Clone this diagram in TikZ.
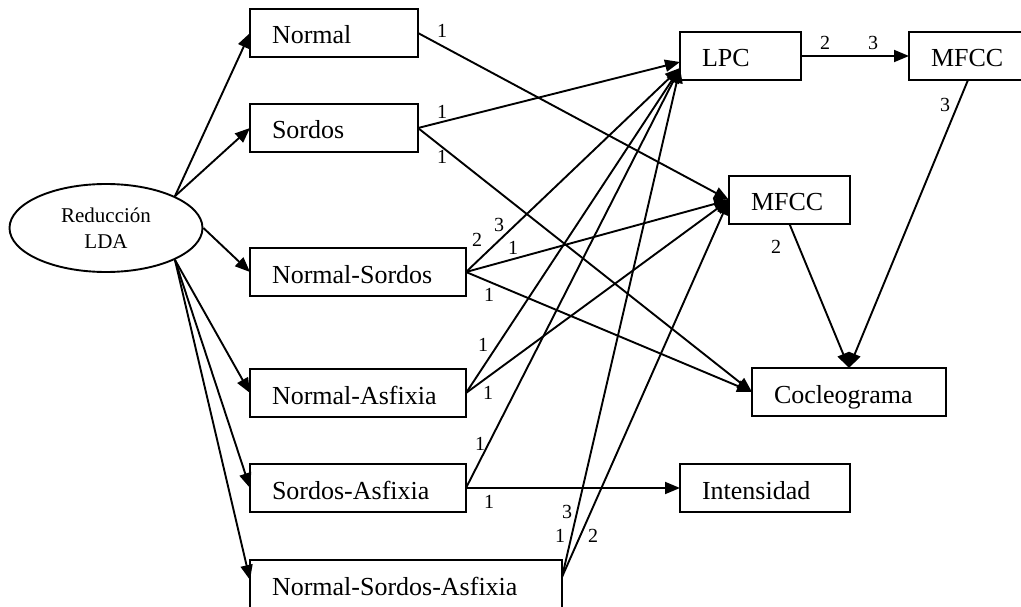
\documentclass[tikz,border=0pt]{standalone}
\usepackage{fontspec}
\setmainfont{Liberation Serif}
\usetikzlibrary{arrows.meta,shapes.geometric}
\begin{document}
\begin{tikzpicture}[x=1pt,y=-1pt,
  box/.style={draw, line width=2.1pt, anchor=north west, outer sep=0pt,
    minimum height=48pt, inner xsep=22pt, inner ysep=0pt,
    text height=22pt, text depth=0pt, align=left,
    font=\fontsize{26}{30}\selectfont},
  lbl/.style={font=\fontsize{20}{23}\selectfont, inner sep=0pt},
  link/.style={line width=1.9pt, -{Triangle[length=15pt,width=12pt]}}
]
\useasboundingbox (0,0) rectangle (1021,607);
\clip (0,0) rectangle (1021,607);

% source node
\node[draw, ellipse, line width=1.9pt, minimum width=193pt, minimum height=88pt,
  inner sep=0pt, align=center, font=\fontsize{21}{26}\selectfont]
  (red) at (106,228) {Reducción\\LDA};

% class groups
\node[box, text width=124pt] (nor) at (250,9)   {Normal};
\node[box, text width=124pt] (sor) at (250,104) {Sordos};
\node[box, text width=172pt] (ns)  at (250,248) {Normal-Sordos};
\node[box, text width=172pt] (na)  at (250,369) {Normal-Asfixia};
\node[box, text width=172pt] (sa)  at (250,464) {Sordos-Asfixia};
\node[box, text width=268pt, minimum height=52pt, text height=18pt]
  (nsa) at (250,560) {Normal-Sordos-Asfixia};

% feature sets
\node[box, text width=77pt]  (lpc) at (680,32)  {LPC};
\node[box, text width=74pt]  (mfa) at (909,32)  {MFCC};
\node[box, text width=77pt]  (mfb) at (729,176) {MFCC};
\node[box, text width=150pt] (coc) at (752,368) {Cocleograma};
\node[box, text width=126pt] (int) at (680,464) {Intensidad};

% entry points
\coordinate (lpcin) at ([yshift=-12pt]lpc.west);
\coordinate (lpcsor) at ([yshift=-6pt]lpc.west);
\coordinate (nsain) at ([yshift=6pt]nsa.west);
\coordinate (nsaout) at ([yshift=9pt]nsa.east);

% reduction to groups
\draw[link] (red.north east) -- (nor.west);
\draw[link] (red.north east) -- (sor.west);
\draw[link] (red.east) -- (ns.west);
\draw[link] (red.south east) -- (na.west);
\draw[link] (red.south east) -- (sa.west);
\draw[link] (red.south east) -- (nsain);

% groups to LPC
\draw[link] (sor.east) -- (lpcsor);
\draw[link] (ns.east) -- (lpcin);
\draw[link] (na.east) -- (lpcin);
\draw[link] (sa.east) -- (lpcin);
\draw[link] (nsaout) -- (lpcin);

% groups to MFCC
\draw[link] (nor.east) -- (mfb.west);
\draw[link] (ns.east) -- (mfb.west);
\draw[link] (na.east) -- (mfb.west);
\draw[link] (nsaout) -- (mfb.west);

% groups to Cocleograma
\draw[link] (sor.east) -- (coc.west);
\draw[link] (ns.east) -- (coc.west);

% remaining links
\draw[link] (sa.east) -- (int.west);
\draw[link] (lpc.east) -- (mfa.west);
\draw[link] (mfa.south) -- (coc.north);
\draw[link] (mfb.south) -- (coc.north);

% edge labels
\node[lbl] (a1) at (442,31)  {1};
\node[lbl] (a2) at (442,112) {1};
\node[lbl] (a3) at (442,157) {1};
\node[lbl] (a4) at (477,240) {2};
\node[lbl] (a5) at (499,225) {3};
\node[lbl] (a6) at (513,248) {1};
\node[lbl] (a7) at (489,295) {1};
\node[lbl] (a8) at (483,345) {1};
\node[lbl] (a9) at (488,393) {1};
\node[lbl] (a10) at (480,444) {1};
\node[lbl] (a11) at (489,502) {1};
\node[lbl] (a12) at (567,512) {3};
\node[lbl] (a13) at (560,536) {1};
\node[lbl] (a14) at (593,536) {2};
\node[lbl] (a15) at (825,43)  {2};
\node[lbl] (a16) at (873,43)  {3};
\node[lbl] (a17) at (945,105) {3};
\node[lbl] (a18) at (776,247) {2};
\end{tikzpicture}
\end{document}
